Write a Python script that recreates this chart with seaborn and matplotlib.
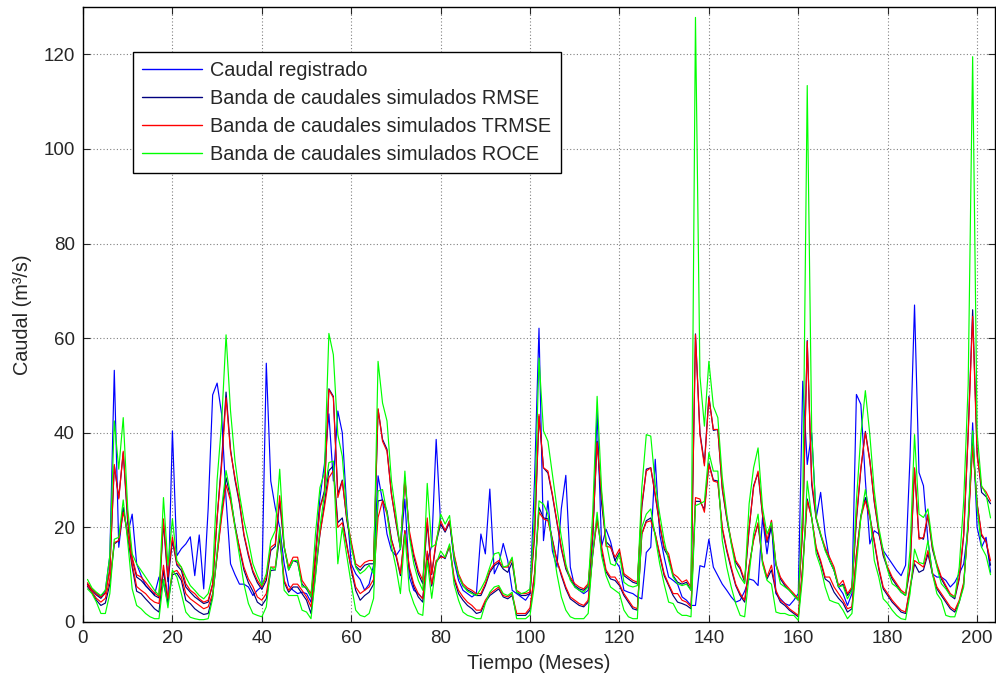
import numpy as np
import pandas as pd
import matplotlib
matplotlib.use("Agg")
import matplotlib.pyplot as plt
import seaborn as sns

sns.set_style("ticks")
plt.rcParams['font.family'] = ['Liberation Sans', 'DejaVu Sans']

months = list(range(1, 204))

observed = [
    8.0, 6.8, 6.1, 5.3, 6.7, 14, 53.2, 15.8, 24, 18.6,
    22.8, 12.3, 9.8, 7.7, 6.7, 5.8, 9.5, 8.1, 3.9, 40.4,
    14, 15.5, 16.5, 18, 9.8, 18.4, 7, 24, 48, 50.5,
    44, 26, 12.3, 10, 8, 8, 7.4, 5.6, 6.7, 7.5,
    54.7, 29.8, 24.2, 20, 12.3, 7.7, 6.7, 6, 6.3, 6,
    4.2, 14.4, 26.3, 33.3, 44, 29.8, 44.6, 40, 24, 12.3,
    10.2, 9, 6.7, 8, 12, 30.9, 25.6, 18.6, 15.1, 14,
    15.4, 26, 9.5, 6.7, 6, 4.9, 13, 16.1, 38.6, 20.7,
    19.3, 21.4, 13, 8.8, 6.7, 6, 5.3, 6, 18.6, 14.4,
    28.1, 10.2, 12.3, 16.6, 13, 6.7, 6, 5.3, 4.6, 6,
    30, 62.1, 17.2, 25.6, 15, 11.6, 24, 31, 11.6, 7.4,
    6.7, 6, 6.7, 17.2, 44.6, 16, 19.6, 17, 13, 11.6,
    6.7, 6.3, 6, 5.3, 4.9, 14.7, 15.8, 34.4, 18.6, 13.7,
    9.5, 8.8, 8, 5.3, 4.6, 3.5, 3.5, 11.9, 11.6, 17.5,
    11.6, 9.8, 8, 6.7, 5.3, 4.2, 4.6, 6.5, 9.1, 8.8,
    7.7, 22.1, 14.4, 21.4, 6, 4.9, 3.9, 3.5, 4.6, 6,
    50.9, 33.3, 40, 22, 27.4, 18.6, 13, 10.9, 7.4, 6,
    3.5, 6, 48.1, 46, 30, 16.5, 19.3, 18.6, 15.1, 13.7,
    12.3, 10.9, 9.8, 12, 35, 67, 31.6, 28.8, 17.2, 10.2,
    9.5, 9.5, 8.8, 7.4, 8.4, 10.2, 12.3, 20, 42.1, 20,
    15.8, 17.9, 10.5]

rmse_upper = [
    8.0, 6.7, 5.7, 5.0, 6.2, 11, 33, 26.3, 35.8, 21,
    13.3, 9.5, 8.8, 7.7, 6.7, 5.6, 5.1, 21, 8.5, 17.2,
    12, 10.9, 7.4, 6.3, 5.3, 4.6, 3.9, 4.2, 8, 22,
    34, 48.6, 36.5, 30, 25, 18.3, 14, 10.5, 8.3, 6.9,
    8.8, 15.1, 16, 25.5, 15.8, 11, 13, 12.6, 8, 7,
    5.3, 13.7, 24.2, 27.7, 49.3, 47.7, 27, 30, 21.5, 16.5,
    11.8, 10.9, 12, 12.3, 12.3, 44.9, 38.6, 36.5, 27, 21,
    15.5, 30.5, 18.6, 13.7, 10.2, 8.1, 21, 10, 16.8, 20.7,
    19, 21, 14, 9.8, 7.6, 6.8, 6.3, 5.6, 5.6, 7.7,
    10.5, 11.9, 12.6, 11.2, 10.5, 12.6, 6.3, 5.6, 5.6, 6,
    18, 43.5, 32.6, 31.5, 26.7, 21, 15.4, 11.2, 9.1, 7.7,
    7, 6.7, 7.7, 18.3, 38.2, 25, 17, 16, 13, 14.7,
    9.8, 9.1, 8.4, 8.1, 24.2, 32.3, 32.6, 26.7, 20.4, 15.4,
    13.7, 9.8, 8.4, 8, 8.4, 6.7, 60.9, 40, 33.5, 47.7,
    40.5, 40.7, 28, 21.8, 16.8, 12.6, 11.2, 8.4, 19.6, 28.8,
    31.5, 22.5, 16.8, 20, 12, 9.1, 7.7, 6.7, 5.6, 4.6,
    20, 59.5, 29, 21.8, 18.3, 15.4, 13, 11, 7.4, 8,
    5.6, 7, 21.5, 32.3, 40.3, 34.2, 25.3, 19, 14, 11.2,
    9.1, 7.7, 6.3, 5.6, 11.2, 32.3, 17.9, 17.5, 22.5, 15.4,
    11.9, 9.1, 7.4, 5.6, 4.9, 9.1, 18.2, 40, 66, 36,
    27.4, 26.5, 25]

rmse_lower = [
    7.5, 6.2, 4.6, 3.5, 4.0, 8, 16.5, 17.2, 24.2, 18,
    11.6, 6.5, 6.0, 4.9, 3.9, 2.8, 2.1, 11, 4, 10,
    10.3, 8.8, 4.6, 3.9, 2.8, 2.1, 1.6, 1.8, 5.5, 14,
    23, 30.5, 26.3, 20.5, 15.5, 11, 8.3, 6.5, 4.2, 3.5,
    4.9, 10.9, 11, 18, 8.4, 6.3, 7.4, 7.4, 6, 4.6,
    1.8, 10, 18.6, 25, 32, 33, 21, 22, 16.5, 11,
    6.7, 4.6, 5.6, 6.3, 8, 25.6, 25.8, 23.5, 17.5, 14,
    9.8, 19.3, 11, 7.4, 5.3, 4.2, 14.4, 7.6, 12.6, 14,
    13.4, 16, 9.1, 6, 4.6, 3.5, 2.8, 1.8, 2.1, 4.2,
    5.6, 6.3, 7, 5.3, 4.9, 5.6, 1.4, 1.4, 1.4, 2.5,
    10, 24.2, 22, 21.8, 17.5, 13, 9.8, 7, 4.9, 4.2,
    3.5, 3.2, 4.2, 14, 22, 15, 10.6, 9.1, 8.8, 7.7,
    5.6, 4.2, 2.8, 2.5, 18.6, 21.4, 22, 18.6, 14, 9.8,
    7.7, 5.6, 4.2, 3.9, 3.5, 2.8, 25.5, 25.5, 23.8, 33.6,
    30, 29.8, 19.6, 15, 11.2, 7.7, 5.6, 4.2, 11.6, 17.6,
    20.7, 12.6, 9.1, 11, 6.3, 4.2, 3.5, 2.5, 1.8, 1.1,
    11.6, 26, 22, 15.4, 12.6, 9.1, 8.4, 6.3, 5, 4,
    2.1, 2.8, 14, 22.5, 26.3, 22.5, 16.8, 11.2, 7, 5.6,
    4.2, 3.2, 2.1, 1.8, 7, 12.3, 10.5, 11, 14.4, 10.2,
    7, 5.6, 4.2, 2.8, 2.1, 4.2, 8, 21, 38, 25,
    18.2, 17, 12]

trmse_upper = [
    8.3, 6.9, 6.0, 5.3, 6.0, 11, 33.3, 26, 36.1, 22,
    13.7, 10, 9.5, 8.4, 7.2, 6.1, 5.4, 21.8, 9.5, 18,
    12.3, 11.6, 8.1, 6.7, 6, 4.9, 4.2, 4.6, 8, 22,
    33, 47.4, 36, 30.5, 25.6, 18.6, 14.4, 10.9, 8.8, 7.4,
    9.5, 15.8, 16.5, 26.7, 16, 11.6, 13.7, 13.7, 8.8, 7.4,
    6, 14.4, 24.2, 27, 49.1, 47.4, 26.3, 29.8, 22, 17,
    12.3, 11.6, 12.6, 13, 13, 45.1, 38.2, 36.1, 27, 21.4,
    15.8, 30.2, 19.3, 14.4, 10.9, 8.8, 22, 10.2, 17.2, 21.4,
    19.3, 21.4, 14.4, 10.2, 8.1, 7.2, 6.7, 6, 6, 8.1,
    10.9, 12.3, 13, 11.6, 11.6, 13.3, 6.7, 6, 6, 6.3,
    18.6, 43.9, 32.6, 31.9, 27, 21.4, 15.8, 11.6, 9.5, 8.1,
    7.4, 7, 8.1, 18.6, 37.9, 27, 16, 15.8, 13.7, 15.4,
    10.2, 9.5, 8.8, 8.4, 24.9, 31.9, 32.6, 27, 20.7, 15.8,
    14.4, 10.2, 9.5, 8.4, 8.9, 7.4, 60.7, 39.6, 33, 47.4,
    40.7, 40.7, 28.4, 22.1, 17.2, 13, 11.6, 8.8, 20, 28.4,
    31.9, 22.8, 17.2, 21.5, 12.3, 9.5, 8.1, 7, 6, 4.9,
    20, 59.3, 30, 22.1, 18.6, 15.8, 13.7, 11.6, 7.7, 8.8,
    6, 7.4, 22.1, 32.6, 40, 34, 25.6, 19.3, 14.4, 11.6,
    9.5, 8.1, 6.7, 6, 11.6, 32.6, 17.5, 17.9, 22.8, 15.8,
    12.3, 9.5, 7.7, 6, 5.3, 9.5, 18.6, 39.6, 64.6, 35,
    28.6, 27.5, 25.6]

trmse_lower = [
    7.8, 6.4, 5.0, 4.2, 5.0, 9, 16.8, 17.2, 23.2, 19,
    12.3, 7.5, 6.7, 6.0, 4.9, 4.2, 3.9, 12, 5, 10.5,
    10.9, 9.5, 6, 4.9, 4.2, 3.5, 2.8, 3.2, 6, 14,
    22, 29, 25.6, 20, 15.8, 11.6, 9.1, 7.5, 5.3, 4.6,
    6, 11.6, 11.6, 19, 8.8, 6.7, 8, 8, 6.7, 5.3,
    3.2, 11.6, 18.6, 24.2, 30.5, 32, 20, 21, 16, 11.6,
    7.4, 6, 6.7, 7.4, 9, 22.1, 25.6, 22.8, 17.2, 14.4,
    10.2, 19.3, 11.6, 8, 6, 4.9, 15, 8, 13, 13.7,
    13.7, 16.1, 9.5, 6.7, 5.3, 4.2, 3.5, 2.5, 2.5, 4.6,
    6, 6.7, 7.4, 5.6, 5.3, 6, 1.8, 1.8, 1.8, 3,
    10.2, 23.2, 21.8, 21.4, 17.2, 13, 10.2, 7.4, 5.3, 4.6,
    3.9, 3.5, 4.6, 14.4, 21.4, 16, 11, 9.5, 9.5, 8,
    6, 4.6, 3.2, 2.8, 18.6, 21.1, 21.4, 18.6, 14.4, 10.2,
    8, 6, 6, 4.6, 4.2, 3.2, 26.3, 26, 23.2, 33.3,
    29.8, 29.5, 20, 15.4, 11.6, 8, 6, 4.6, 12, 17.2,
    21, 13, 9.5, 12, 6.7, 4.6, 3.9, 2.8, 2.1, 1.4,
    12, 25.6, 22, 15.8, 13, 9.5, 9.5, 7.4, 6, 4.6,
    2.8, 3.2, 14.4, 22.1, 25.6, 22.1, 17.2, 11.6, 7.4, 6,
    4.6, 3.5, 2.5, 2.1, 7.4, 13, 12.3, 11.6, 15.1, 10.5,
    7.4, 6, 4.6, 3.2, 2.5, 4.6, 8.4, 20, 37.2, 25,
    18.6, 17, 13]

roce_upper = [
    9.0, 7.2, 6.3, 5.6, 6.7, 14, 42.5, 32.3, 43.2, 24,
    14.4, 12.3, 10.9, 9.5, 8.1, 6.7, 5.6, 26.3, 12, 21.8,
    13, 11.6, 9.5, 7.7, 6.7, 5.6, 4.9, 6, 10, 30,
    42, 60.7, 44.6, 34, 27, 21.4, 17.2, 12.3, 9.8, 7.7,
    10.2, 17.2, 19.3, 32.3, 16, 11, 13, 13, 7.4, 7.4,
    5.3, 18.6, 28.4, 31.6, 61, 56.5, 39.6, 35, 22.8, 16,
    11.6, 10.2, 10.9, 12, 10.2, 55.1, 46.3, 42.5, 29.8, 22.8,
    15.4, 31.9, 18, 12.3, 8.8, 6.7, 29.3, 15.8, 16.5, 22.8,
    20.7, 22.5, 13.7, 9.8, 7.7, 6.5, 6, 5.6, 7, 8.8,
    11.6, 14.4, 14.7, 11.6, 11.9, 13.7, 6.3, 6, 6.3, 7,
    22.8, 55.8, 40.4, 38.2, 31.2, 24.2, 17.9, 12.3, 8.8, 7.4,
    6.7, 6.3, 7.5, 22.8, 47.7, 28, 17, 12.3, 11.9, 14.4,
    8.4, 7.7, 7.4, 7.7, 28.4, 39.6, 39.3, 29.1, 22.8, 17.2,
    13, 9.5, 8.1, 7.7, 8, 6.7, 127.8, 52, 41.4, 55.1,
    45.6, 43.2, 30.5, 22.8, 16.5, 11.6, 9.5, 8.1, 25, 32.6,
    36.8, 24.2, 18.6, 21, 12.3, 8.1, 7.4, 6.7, 5.6, 4.6,
    25, 113.4, 40, 22.1, 18.6, 15.1, 13, 10.9, 7.4, 7.7,
    4.9, 6.7, 25.6, 39.6, 48.9, 39.6, 27.7, 20, 15.1, 10.9,
    8.1, 7.4, 6.3, 5.6, 15.1, 39.6, 22.8, 22.1, 23.9, 16.5,
    11.6, 8.1, 7, 5.6, 5.3, 11.6, 25.6, 50.2, 119.5, 40,
    28.8, 27, 22]

roce_lower = [
    7.0, 6.0, 4.2, 1.8, 1.8, 6, 17.5, 17.9, 25.8, 17,
    7, 3.5, 2.8, 1.8, 1.1, 0.7, 0.7, 9, 3, 11,
    9.5, 6, 2.1, 1, 0.7, 0.5, 0.5, 0.7, 5, 15,
    24, 32, 27, 20, 14, 8, 3.9, 1.8, 1.4, 1.1,
    3.2, 11.6, 11, 20, 6.7, 5.6, 5.6, 5.6, 2.5, 2.1,
    0.7, 9.5, 20, 27, 33.7, 34, 12.3, 20, 14, 8,
    2.5, 1.4, 1.1, 1.8, 5, 27.7, 28, 23, 16, 11.6,
    6, 18.6, 6.7, 3.9, 1.8, 1.4, 13, 5, 12.3, 15,
    13.7, 16.5, 8, 4.6, 2.1, 1.4, 1.1, 0.7, 0.7, 3.9,
    6.3, 7.4, 7.7, 6, 5.6, 6.3, 0.7, 0.7, 0.7, 1.5,
    8, 25.6, 24.9, 22.8, 16.5, 10.2, 5.3, 2.5, 1.1, 0.7,
    0.7, 0.7, 1.8, 14.4, 23.2, 14, 9.8, 7.4, 6.7, 6,
    2.5, 1.1, 0.7, 0.7, 20, 22.8, 23.9, 18, 12.3, 8,
    4.2, 3.9, 2.1, 1.4, 1.4, 1.1, 24.6, 25, 25.5, 35.8,
    31.9, 31.9, 17.2, 11.6, 7.4, 3.9, 1.4, 1.1, 10, 18.6,
    22.8, 12.3, 8.8, 8, 2.1, 1.8, 1.8, 1.4, 1.4, 0.35,
    10, 29.8, 22, 14.4, 11.6, 7.4, 4.6, 4.2, 3.9, 2.5,
    0.7, 1.8, 12, 22.1, 28, 22.8, 13, 9.5, 4.9, 3.9,
    2.5, 1.4, 0.7, 0.5, 6, 15.4, 12.6, 12.3, 17.2, 10.2,
    6, 4.6, 1.4, 1.1, 1.1, 4.2, 7.4, 22, 40.4, 24,
    15.8, 14, 10]

labels = ["Caudal registrado",
          "Banda de caudales simulados RMSE",
          "Banda de caudales simulados TRMSE",
          "Banda de caudales simulados ROCE"]
colors = ["#0000FF", "#00007F", "#FF0000", "#00FF00"]
xticks = [0, 20, 40, 60, 80, 100, 120, 140, 160, 180, 200]
yticks = [0, 20, 40, 60, 80, 100, 120]

series = [
    (labels[0], "obs", observed),
    (labels[1], "rmse_sup", rmse_upper),
    (labels[1], "rmse_inf", rmse_lower),
    (labels[2], "trmse_sup", trmse_upper),
    (labels[2], "trmse_inf", trmse_lower),
    (labels[3], "roce_sup", roce_upper),
    (labels[3], "roce_inf", roce_lower),
]
frames = []
for lab, unit, vals in series:
    assert len(vals) == len(months), (unit, len(vals))
    frames.append(pd.DataFrame({"Mes": months, "Caudal": vals,
                                "Serie": lab, "Linea": unit}))
df = pd.concat(frames, ignore_index=True)

fig = plt.figure(figsize=(9.96, 6.79), dpi=100)
ax = fig.add_axes([83 / 996, 1 - 622 / 679, 912 / 996, 615 / 679])

sns.lineplot(data=df, x="Mes", y="Caudal", hue="Serie", units="Linea",
             estimator=None, hue_order=labels,
             palette=dict(zip(labels, colors)), linewidth=0.85, ax=ax)

ax.set_xlim(0, 204)
ax.set_ylim(0, 130)
ax.set_xticks(xticks)
ax.set_yticks(yticks)
ax.grid(True, linestyle=(0, (1, 2)), color="0.5", linewidth=0.8)
ax.tick_params(direction="in", top=True, right=True, length=5,
               labelsize=13.5, width=0.8, pad=6)
for s in ax.spines.values():
    s.set_linewidth(1.0)
    s.set_color("black")
ax.set_xlabel("Tiempo (Meses)", fontsize=14.3, labelpad=5)
ax.set_ylabel("Caudal (m³/s)", fontsize=14.3, labelpad=8)

leg = ax.legend(loc="upper left", bbox_to_anchor=(50 / 912, 1 - 45 / 615),
                borderaxespad=0, fontsize=14.3, frameon=True, fancybox=False,
                edgecolor="black", framealpha=1, handlelength=3.0,
                handletextpad=0.45, labelspacing=0.46, borderpad=0.45)
leg.get_frame().set_linewidth(1.0)
for line in leg.get_lines():
    line.set_linewidth(1.0)

fig.savefig("out.png", dpi=100)
